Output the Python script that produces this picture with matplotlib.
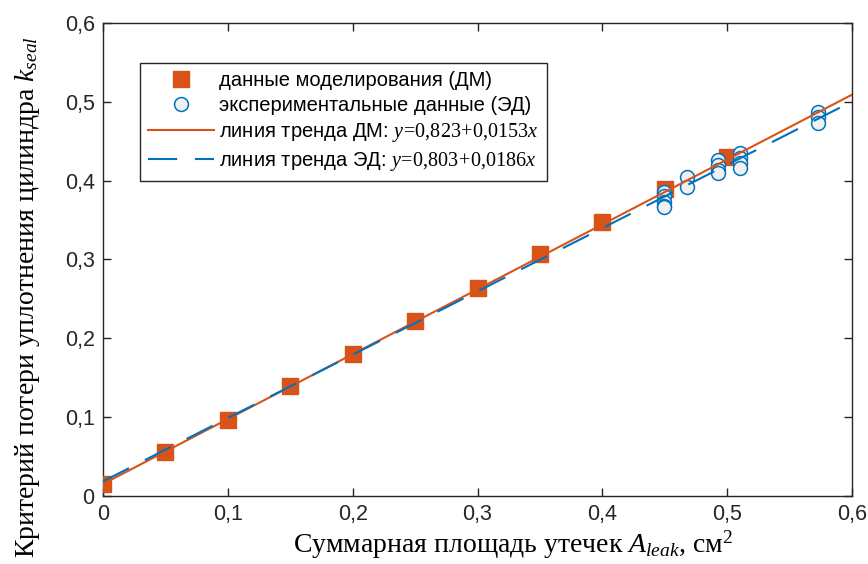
import numpy as np
import matplotlib
matplotlib.use("Agg")
import matplotlib.pyplot as plt

plt.rcParams['font.family'] = ['Liberation Sans', 'DejaVu Sans']
plt.rcParams['mathtext.fontset'] = 'custom'
plt.rcParams['mathtext.rm'] = 'Liberation Serif'
plt.rcParams['mathtext.it'] = 'Liberation Serif:italic'

# данные моделирования (ДМ)
x_dm = [0.0, 0.05, 0.10, 0.15, 0.20, 0.25, 0.30, 0.35, 0.40, 0.45, 0.50]
y_dm = [0.015, 0.056, 0.097, 0.139, 0.180, 0.222, 0.264, 0.307, 0.347, 0.389, 0.430]

# экспериментальные данные (ЭД)
x_ed = [0.449, 0.449, 0.449, 0.449, 0.449,
        0.468, 0.468,
        0.493, 0.493, 0.493, 0.493,
        0.510, 0.510, 0.510, 0.510,
        0.573, 0.573, 0.573]
y_ed = [0.385, 0.380, 0.373, 0.368, 0.366,
        0.405, 0.392,
        0.426, 0.420, 0.414, 0.410,
        0.435, 0.429, 0.423, 0.416,
        0.487, 0.481, 0.473]

# линии тренда: y = a + b*x
trend_dm = (0.0153, 0.823)
trend_ed = (0.0186, 0.803)
x_trend = np.array([0.0, 0.6])

orange = '#D95319'
blue = '#0072BD'

fig = plt.figure(figsize=(8.68, 5.64), dpi=100)
ax = fig.add_axes([0.1187, 0.1206, 0.8629, 0.8386])

ax.plot(x_dm, y_dm, 's', color=orange, ms=11.5, mec=orange, zorder=3,
        label='данные моделирования (ДМ)')
ax.plot(x_ed, y_ed, 'o', mfc='#f0f0f0', mec=blue, mew=1.1, ms=10, zorder=4,
        label='экспериментальные данные (ЭД)')
ax.plot(x_trend, trend_dm[0] + trend_dm[1] * x_trend, '-', color=orange, lw=1.5,
        zorder=5, label=r'линия тренда ДМ: $y\!=\!\mathrm{0{,}823}\!+\!\mathrm{0{,}0153}x$')
ax.plot(x_trend, trend_ed[0] + trend_ed[1] * x_trend, '--', color=blue, lw=1.5,
        dashes=(14, 8.5), zorder=5,
        label=r'линия тренда ЭД: $y\!=\!\mathrm{0{,}803}\!+\!\mathrm{0{,}0186}x$')

ax.set_xlim(0, 0.6)
ax.set_ylim(0, 0.6)
ticks = np.arange(0, 0.61, 0.1)
ax.set_xticks(ticks)
ax.set_yticks(ticks)
labels = ['0'] + [f'{t:.1f}'.replace('.', ',') for t in ticks[1:]]
ax.set_xticklabels(labels)
ax.set_yticklabels(labels)
ax.tick_params(direction='in', top=True, right=True, length=6, width=1,
               labelsize=15.5, color='#262626', labelcolor='#262626', pad=6)
for s in ax.spines.values():
    s.set_color('#262626')
    s.set_linewidth(1)

ax.set_xlabel(r'Суммарная площадь утечек $A_{leak}$, см$^2$',
              family='Liberation Serif', fontsize=20)
ax.set_ylabel(r'Критерий потери уплотнения цилиндра $k_{seal}$',
              family='Liberation Serif', fontsize=20)
ax.xaxis.set_label_coords(0.547, -0.068)
ax.yaxis.set_label_coords(-0.082, 0.42)

leg = ax.legend(loc='upper left', bbox_to_anchor=(0.049, 0.915), fontsize=14.5,
                fancybox=False, edgecolor='#262626', framealpha=1,
                handlelength=3.3, handletextpad=0.25, borderpad=0.4,
                labelspacing=0.3, borderaxespad=0)
leg.get_frame().set_linewidth(1)

fig.savefig('out.png', dpi=100)
